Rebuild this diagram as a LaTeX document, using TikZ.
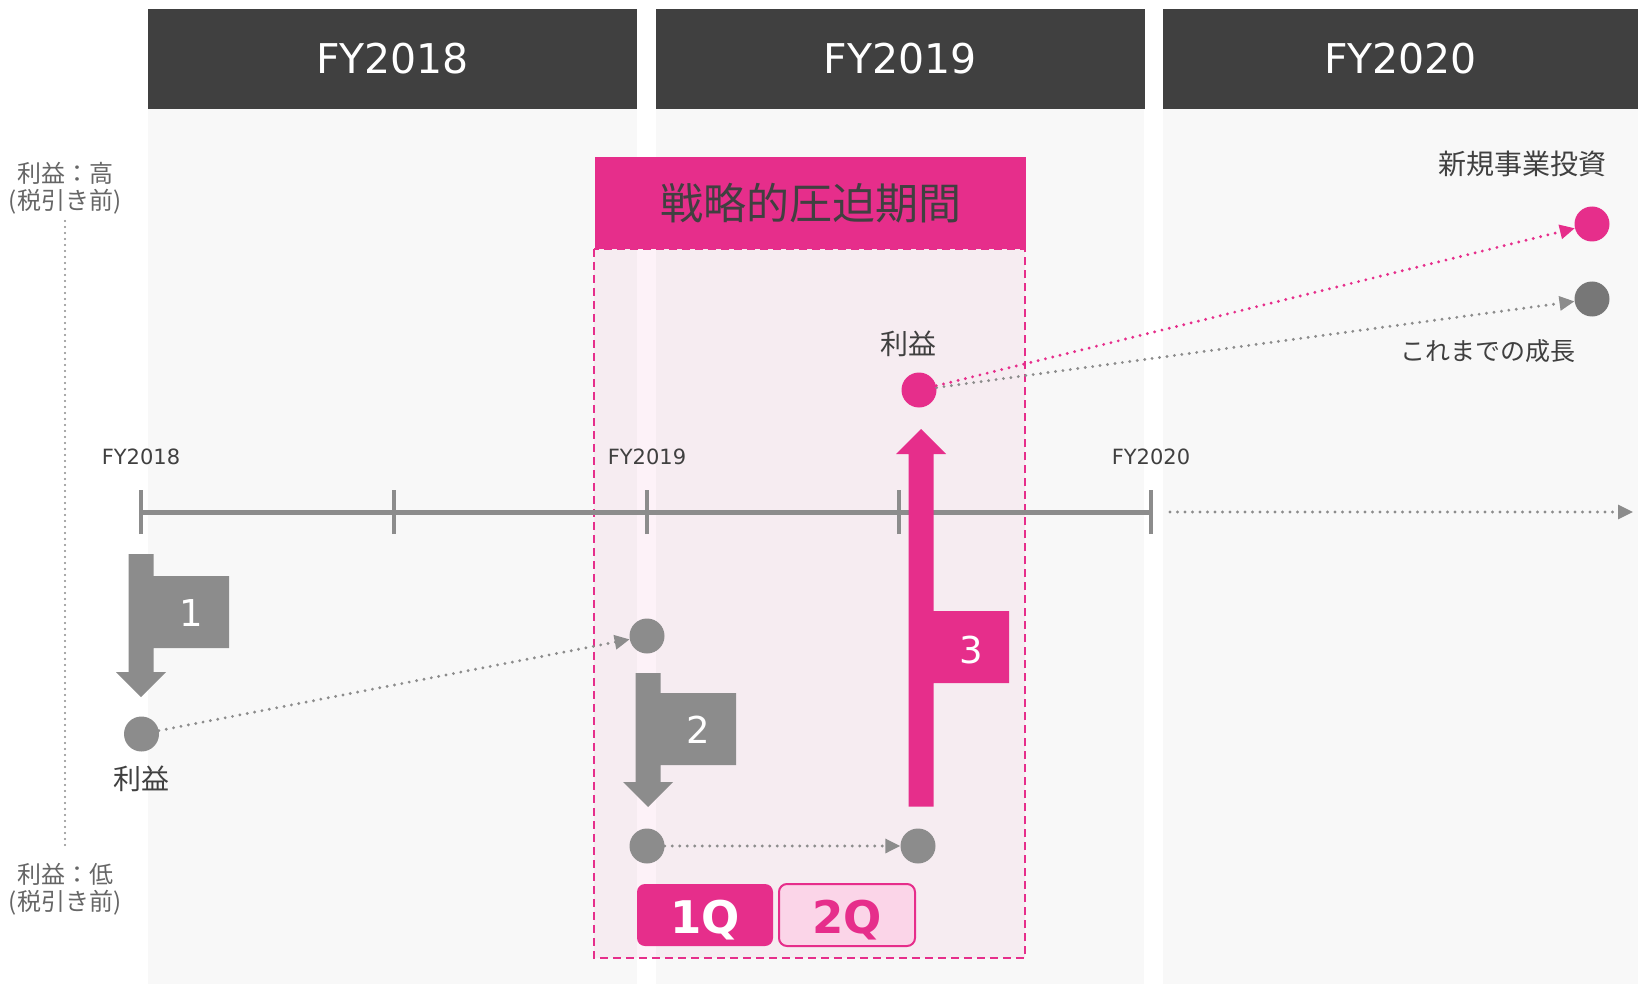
\documentclass[tikz,border=0pt]{standalone}
\usepackage{fontspec}
\setmainfont{DejaVu Sans}
\newfontfamily\jp{Noto Sans CJK JP}
\usetikzlibrary{arrows.meta}
\definecolor{hdr}{HTML}{404040}
\definecolor{colbg}{HTML}{F8F8F8}
\definecolor{pk}{HTML}{E62E8B}
\definecolor{gr}{HTML}{8C8C8C}
\definecolor{dg}{HTML}{777777}
\definecolor{lp}{HTML}{FBD5E8}
\definecolor{txt}{HTML}{404040}
\definecolor{lbl}{HTML}{666666}
\newcommand\fsz[1]{\fontsize{#1}{#1}\selectfont}
\tikzset{
  hdrbox/.style={fill=hdr, text=white, minimum width=489pt, minimum height=100pt, inner sep=0pt, font=\fsz{41}},
  dot/.style={circle, fill=gr, minimum size=35pt, inner sep=0pt},
  pdot/.style={circle, fill=pk, minimum size=35pt, inner sep=0pt},
  dotline/.style={line width=3.2pt, line cap=round, dash pattern=on 0pt off 7.5pt},
  tip/.style={-{Triangle[length=15pt,width=14pt]}},
  fylbl/.style={text=txt, font=\fsz{21}, inner sep=0pt},
  axlbl/.style={text=lbl, font=\jp\fsz{24}, inner sep=0pt, align=center},
  jlbl/.style={text=txt, font=\jp\fsz{28}, inner sep=0pt},
  numlbl/.style={text=white, font=\fsz{37}, inner sep=0pt},
  qbox/.style={rounded corners=8pt, minimum width=136pt, minimum height=62pt, inner sep=0pt, text height=36pt, text depth=0pt, font=\bfseries\fsz{45}},
}
\begin{document}
\begin{tikzpicture}[x=1pt,y=-1pt]
\useasboundingbox (0,0) rectangle (1638,984);
\fill[white] (0,0) rectangle (1638,984);
% columns
\fill[colbg] (148,109) rectangle (637,984);
\fill[colbg] (656,109) rectangle (1144,984);
\fill[colbg] (1163,109) rectangle (1638,984);
% headers
\node[hdrbox] (h1) at (392.5,59) {FY2018};
\node[hdrbox] (h2) at (900,59) {FY2019};
\node[hdrbox, minimum width=475pt] (h3) at (1400.5,59) {FY2020};
% pressure period
\draw[pk, line width=2.5pt, dash pattern=on 8pt off 5pt, fill=pk, fill opacity=0.06] (594,249) rectangle (1025,958);
\node[fill=pk, minimum width=431pt, minimum height=92pt, inner sep=0pt, text=hdr, font=\jp\fsz{43}] (title) at (810.5,203) {戦略的圧迫期間};
% axis labels
\node[axlbl] (hi1) at (65,173) {利益：高};
\node[axlbl] (hi2) at (65,202) {(税引き前)};
\node[axlbl] (lo1) at (65,874) {利益：低};
\node[axlbl] (lo2) at (65,903) {(税引き前)};
\coordinate (vtop) at (65,221);
\coordinate (vbot) at (65,846);
\draw[gr, line width=2.4pt, line cap=round, dash pattern=on 0pt off 6pt] (vtop) -- (vbot);
% timeline
\coordinate (t0) at (141,512);
\coordinate (t1) at (394,512);
\coordinate (t2) at (647,512);
\coordinate (t3) at (899,512);
\coordinate (t4) at (1151,512);
\draw[gr, line width=5pt] (t0) -- (t4);
\foreach \t in {t0,t1,t2,t3,t4} \draw[gr, line width=4pt] ([yshift=-22pt]\t) -- ([yshift=22pt]\t);
\node[fylbl] (f1) at (141,457) {FY2018};
\node[fylbl] (f2) at (647,457) {FY2019};
\node[fylbl] (f3) at (1151,457) {FY2020};
\coordinate (ts) at (1170,512);
\coordinate (te) at (1633,512);
\draw[gr, dotline, tip] (ts) -- (te);
% big arrows
\fill[gr] (128.5,554) -- (153.5,554) -- (153.5,576) -- (229,576) -- (229,648) -- (153.5,648) -- (153.5,672) -- (166,672) -- (141,697) -- (116,672) -- (128.5,672) -- cycle;
\node[numlbl] (n1) at (191,613) {1};
\fill[gr] (635.5,673) -- (660.5,673) -- (660.5,693) -- (736,693) -- (736,765) -- (660.5,765) -- (660.5,782) -- (673,782) -- (648,807) -- (623,782) -- (635.5,782) -- cycle;
\node[numlbl] (n2) at (698,730) {2};
\fill[pk] (908.5,806.5) -- (933.5,806.5) -- (933.5,683) -- (1009,683) -- (1009,611) -- (933.5,611) -- (933.5,454) -- (946,454) -- (921,429) -- (896,454) -- (908.5,454) -- cycle;
\node[numlbl] (n3) at (971,650) {3};
% dots
\node[dot] (c1) at (141.5,734) {};
\node[dot] (c2) at (647,636) {};
\node[dot] (c3) at (647,846) {};
\node[dot] (c4) at (918,846) {};
\node[pdot] (c5) at (919,390) {};
\node[pdot] (c6) at (1592,224) {};
\node[dot, fill=dg] (c7) at (1592,299) {};
\node[jlbl] (l1) at (141,779) {利益};
\node[jlbl] (l5) at (908,344) {利益};
\node[jlbl, anchor=east] (l6) at (1607,164) {新規事業投資};
\node[jlbl, anchor=east, font=\jp\fsz{25}] (l7) at (1576,351) {これまでの成長};
% dotted connectors
\draw[gr, dotline, tip] (c1) -- (c2);
\draw[gr, dotline, tip] (c3) -- (c4);
\draw[gr, dotline, tip] (c5) -- (c7);
\draw[pk, dotline, tip] (c5) -- (c6);
% quarters
\node[qbox, fill=pk, text=white] (q1) at (705,915) {1Q};
\node[qbox, fill=lp, draw=pk, line width=2pt, text=pk] (q2) at (847,915) {2Q};
\end{tikzpicture}
\end{document}
